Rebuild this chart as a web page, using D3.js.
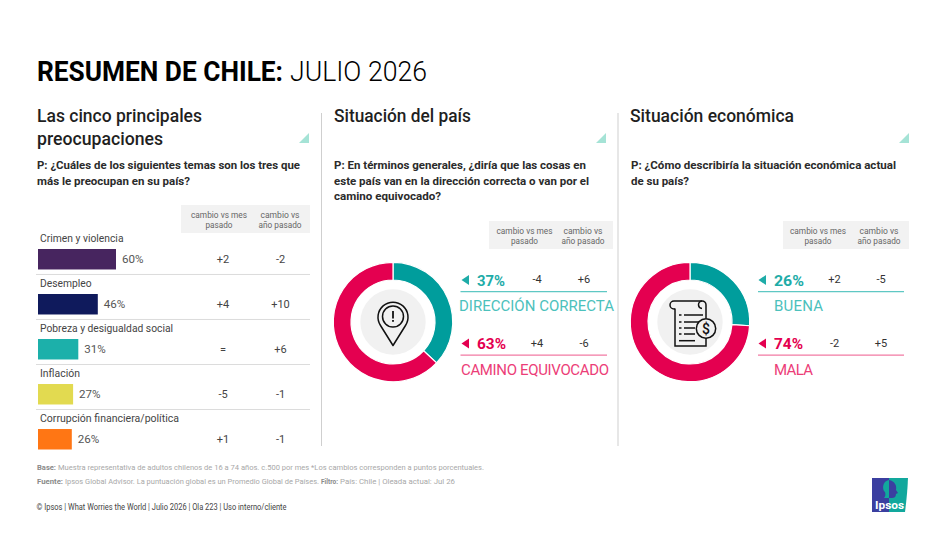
<!DOCTYPE html>
<html lang="es"><head><meta charset="utf-8">
<script src="https://cdn.jsdelivr.net/npm/d3@7"></script>
<style>html,body{margin:0;padding:0;background:#fff}svg{display:block}text{font-family:Roboto,sans-serif}</style>
</head><body><svg id="c" width="945" height="533"></svg>
<script>
const concerns = ["Crimen y violencia","Desempleo","Pobreza y desigualdad social","Inflación","Corrupción financiera/política"];
const concernValues = [60,46,31,27,26];
const concernMonth = ["+2","+4","=","-5","+1"];
const concernYear = ["-2","+10","+6","-1","-1"];
const countryLabels = ["DIRECCIÓN CORRECTA","CAMINO EQUIVOCADO"];
const countryValues = [37,63];
const countryMonth = ["-4","+4"];
const countryYear = ["+6","-6"];
const economyLabels = ["BUENA","MALA"];
const economyValues = [26,74];
const economyMonth = ["+2","-2"];
const economyYear = ["-5","+5"];
const concernColors = ["#47255f","#0f1a5c","#1cb0aa","#e2da50","#ff7614"];
const concernLabelW = [83.5,51.5,133,40,139];

const svg = d3.select("#c");
function T(g,x,y,s,size,weight,fill,w,anchor,adj){
  const t=g.append("text").attr("x",x).attr("y",y).text(s).attr("font-size",size).attr("font-weight",weight).attr("fill",fill).attr("text-anchor",anchor||"start");
  if(w) t.attr("textLength",w).attr("lengthAdjust",adj||"spacingAndGlyphs");
  return t;
}
const DARK="#1f1f1f",TEAL="#009d9c",PINK="#e40050",TEALT="#4cc1bc",PINKT="#ec3d78";

// title
T(svg,37,80.5,"RESUMEN DE CHILE:",27,700,"#000",246);
T(svg,290,80.5,"JULIO 2026",27,300,"#000",137);

// column headings
[["Las cinco principales",37,122,165],["preocupaciones",37,145,126],["Situación del país",334,122,137],["Situación económica",630,122,164]]
 .forEach(d=>T(svg,d[1],d[2],d[0],18,500,DARK,d[3]));
[299,596,899].forEach(x=>svg.append("path").attr("d",`M${x},143L${x+10},133V143Z`).attr("fill","#a5e3d6"));

// questions
[["P: ¿Cuáles de los siguientes temas son los tres que",37,169,263],["más le preocupan en su país?",37,185,153],
 ["P: En términos generales, ¿diría que las cosas en",334,169,252],["este país van en la dirección correcta o van por el",334,185,255],["camino equivocado?",334,200,107],
 ["P: ¿Cómo describiría la situación económica actual",631,169,265],["de su país?",631,185,58]]
 .forEach(d=>T(svg,d[1],d[2],d[0],11,700,"#2b2b2b",d[3]));

// dividers
[321.5,618].forEach(x=>svg.append("line").attr("x1",x).attr("x2",x).attr("y1",113).attr("y2",446).attr("stroke","#cfcfcf").attr("stroke-width",1));

// header boxes
[[181,205,129,28,219,280],[489,221,124,28,524.5,583],[783,221,126,28,818,879]].forEach(d=>{
  svg.append("rect").attr("x",d[0]).attr("y",d[1]).attr("width",d[2]).attr("height",d[3]).attr("fill","#f2f2f2");
  T(svg,d[4],d[1]+13,"cambio vs mes",9,400,"#666",56,"middle");
  T(svg,d[4],d[1]+23,"pasado",9,400,"#666",27,"middle");
  T(svg,d[5],d[1]+13,"cambio vs",9,400,"#666",39,"middle");
  T(svg,d[5],d[1]+23,"año pasado",9,400,"#666",43,"middle");
});

// bars
const xBar=d3.scaleLinear().domain([0,60]).range([38,116]);
const yBar=d3.scaleBand().domain(concerns).range([249,449.5]).paddingInner(0.545).paddingOuter(0);
concerns.forEach((c,i)=>{
  const y=yBar(c),h=yBar.bandwidth(),v=concernValues[i],mid=y+h/2;
  T(svg,40,y-7,c,11,400,"#444",concernLabelW[i]);
  svg.append("rect").attr("x",xBar(0)).attr("y",y).attr("width",xBar(v)-xBar(0)).attr("height",h).attr("fill",concernColors[i]);
  T(svg,xBar(v)+6,mid+4,v+"%",11,400,"#555",21.5);
  T(svg,223,mid+4,concernMonth[i],11,400,"#444",null,"middle");
  T(svg,280.5,mid+4,concernYear[i],11,400,"#444",null,"middle");
  if(i<concerns.length-1) svg.append("line").attr("x1",36).attr("x2",310).attr("y1",y+h+5).attr("y2",y+h+5).attr("stroke","#dcdcdc").attr("stroke-width",1);
});

// donuts
const pie=d3.pie().sort(null).startAngle(0).endAngle(2*Math.PI);
const arc=d3.arc().innerRadius(42).outerRadius(59.7);
function donut(cx,cy,vals){
  const g=svg.append("g").attr("transform",`translate(${cx},${cy})`);
  g.selectAll("path").data(pie(vals)).join("path").attr("d",arc).attr("fill",(d,i)=>[TEAL,PINK][i]).attr("stroke","#fff").attr("stroke-width",1.2);
  g.append("circle").attr("r",32.7).attr("fill","#f1f1f1");
  return g;
}
const d1=donut(393,322,countryValues);
const d2=donut(690,322,economyValues);

// pin icon
const ic1=d1.append("g").attr("fill","none").attr("stroke","#111").attr("stroke-width",1.5);
ic1.append("path").attr("d","M0,23.5L-12.5,3.5A15,15 0 1 1 12.5,3.5Z").attr("stroke-linejoin","round");
ic1.append("circle").attr("cy",-5.5).attr("r",10.5);
d1.append("rect").attr("x",-.9).attr("y",-11).attr("width",1.8).attr("height",7.5).attr("fill","#111");
d1.append("rect").attr("x",-.9).attr("y",-2).attr("width",1.8).attr("height",1.8).attr("fill","#111");

// invoice icon
const ic2=d2.append("g").attr("fill","none").attr("stroke","#111").attr("stroke-width",1.5);
ic2.append("path").attr("d","M-15,-13H-16A4,4 0 0 1 -16,-21H12");
ic2.append("path").attr("d","M-15,-13.5V24H16V16");
ic2.append("path").attr("d","M12,-21A3.8,3.8 0 0 1 16,-17.2V-4M12,-21A3.8,3.8 0 0 0 8.5,-17A3.8,3.8 0 0 0 12,-13.5");
[[-7,13],[0,9],[6,5],[12,5]].forEach(l=>{
  ic2.append("line").attr("x1",-11).attr("x2",-8.5).attr("y1",l[0]).attr("y2",l[0]);
  ic2.append("line").attr("x1",-6).attr("x2",l[1]).attr("y1",l[0]).attr("y2",l[0]);
});
ic2.append("line").attr("x1",-11).attr("x2",5).attr("y1",18.7).attr("y2",18.7);
ic2.append("circle").attr("cx",16).attr("cy",6.5).attr("r",9.7).attr("fill","#f1f1f1");
T(d2,16,11.5,"$",14,500,"#111",null,"middle");

// item rows
function items(triX,pctX,lineX1,lineX2,midM,midY,labelX,labels,vals,mon,yr,pctW,labW){
  labels.forEach((l,i)=>{
    const col=i?PINK:"#1eaca8",lineCol=i?"#f27aa3":"#5fc8c4",tcol=i?PINKT:TEALT;
    const oy=i?63.5:0;
    svg.append("path").attr("d",`M${triX+7.5},${275+oy}V${285+oy}L${triX},${280+oy}Z`).attr("fill",col);
    T(svg,pctX,285.5+oy,vals[i]+"%",15,700,col,pctW[i]);
    T(svg,midM,283+oy,mon[i],11,400,"#333",null,"middle");
    T(svg,midY,283+oy,yr[i],11,400,"#333",null,"middle");
    svg.append("line").attr("x1",lineX1).attr("x2",lineX2).attr("y1",291.7+oy).attr("y2",291.7+oy).attr("stroke",lineCol).attr("stroke-width",1.2);
    T(svg,labelX[i],311+oy,l,15,400,tcol,labW[i],null,"spacing");
  });
}
items(461.5,477,460.5,607,537,584,[459,461],countryLabels,countryValues,countryMonth,countryYear,[28,29],[155,148]);
items(758.5,774,758,904,834.5,881,[774,774],economyLabels,economyValues,economyMonth,economyYear,[30,29],[49,39]);

// footer
const footerBold="#8a8a8a",footerText="#a8a8a8";
T(svg,37,470,"Base:",8,700,footerBold,19);
T(svg,58,470,"Muestra representativa de adultos chilenos de 16 a 74 años. c.500 por mes  *Los cambios corresponden a puntos porcentuales.",8,400,footerText,426);
T(svg,37,484,"Fuente:",7,700,footerBold,26);
T(svg,65,484,"Ipsos Global Advisor. La puntuación global es un Promedio Global de Países.",7.5,400,footerText,254);
T(svg,321,484,"Filtro:",7,700,footerBold,17);
T(svg,340,484,"País: Chile | Oleada actual: Jul 26",7.5,400,footerText,115);
T(svg,36.5,510,"© Ipsos | What Worries the World | Julio 2026 | Ola 223 | Uso interno/cliente",8.5,400,"#444",250);

// Ipsos logo
const logo=svg.append("g");
logo.append("path").attr("d","M872,478H889V512H872Z").attr("fill","#3b3fa0");
logo.append("path").attr("d","M889,478H908C907.5,490 906.5,500 905,512H889Z").attr("fill","#12a89d");
logo.append("path").attr("d","M889,480C882,481 882,490 885,492C886,495 885,497 884,498H889Z").attr("fill","#12a89d");
logo.append("path").attr("d","M889,480C895,481 897,486 896,490L898,493L896,494C896,497 894,498 892,498H889Z").attr("fill","#3b3fa0");
T(logo,875,508.5,"Ipsos",11,700,"#fff",29);
</script></body></html>
